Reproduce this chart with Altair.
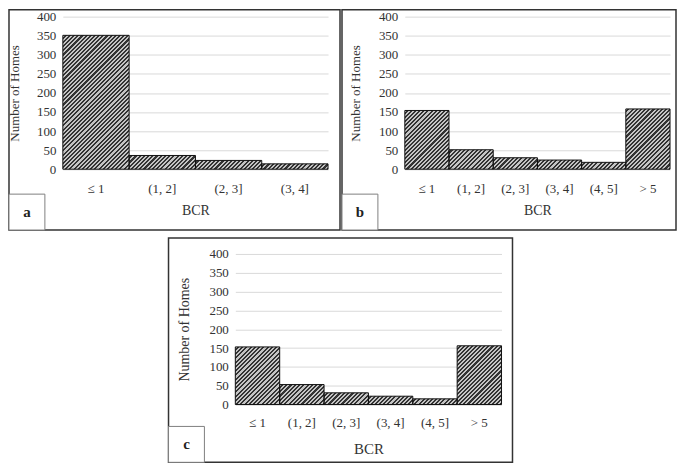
import altair as alt
import pandas as pd

cats_a = ["≤ 1", "(1, 2]", "(2, 3]", "(3, 4]"]
vals_a = [351, 36, 23, 14]

cats_b = ["≤ 1", "(1, 2]", "(2, 3]", "(3, 4]", "(4, 5]", "> 5"]
vals_b = [154, 51, 30, 24, 18, 158]

cats_c = ["≤ 1", "(1, 2]", "(2, 3]", "(3, 4]", "(4, 5]", "> 5"]
vals_c = [153, 53, 31, 22, 15, 156]

y_ticks = [0, 50, 100, 150, 200, 250, 300, 350, 400]
Y_MAX = 400

FONT = "Liberation Serif"
TXT = "#333333"
GRID = "#d9d9d9"
DARK = "#333333"
LIGHT = "#c4c4c4"
PERIOD = 4.2


def hatch(w, h):
    """Upward-diagonal hatch as a hard-stop linear gradient for a w x h box."""
    n = max(1, int(round((w + h) / PERIOD)))
    stops = []
    for k in range(n):
        a = k / n
        m = (k + 0.5) / n
        b = (k + 1) / n
        stops += [alt.GradientStop(offset=a, color=LIGHT),
                  alt.GradientStop(offset=m, color=LIGHT),
                  alt.GradientStop(offset=m, color=DARK),
                  alt.GradientStop(offset=b, color=DARK)]
    x2 = w * (w + h) / (w * w + h * h)
    y2 = h * (w + h) / (w * w + h * h)
    return alt.LinearGradient(gradient="linear", stops=stops, x1=0, y1=0, x2=x2, y2=y2)


def panel(cats, vals, letter, W, H, L, R, T, B, tfs, xfs, lab_pad, xt_pad, yt_pad):
    df = pd.DataFrame({"cat": cats, "n": vals})
    dummy = pd.DataFrame({"k": [0]})
    xscale = alt.Scale(domain=cats, paddingInner=0, paddingOuter=0)
    yscale = alt.Scale(domain=[0, Y_MAX])
    xaxis = alt.Axis(title="BCR", labelAngle=0, ticks=False, grid=False,
                     domain=True, domainColor=GRID,
                     labelFont=FONT, labelFontSize=13, labelColor=TXT,
                     labelPadding=lab_pad, titlePadding=xt_pad,
                     titleFont=FONT, titleFontSize=xfs, titleFontWeight="normal",
                     titleColor=TXT)
    yaxis = alt.Axis(title="Number of Homes", values=y_ticks, ticks=False,
                     domain=False, grid=True, gridColor=GRID,
                     labelFont=FONT, labelFontSize=13, labelColor=TXT,
                     labelPadding=7, titlePadding=yt_pad,
                     titleFont=FONT, titleFontSize=tfs, titleFontWeight="normal",
                     titleColor=TXT)
    enc = dict(x=alt.X("cat:N", scale=xscale, axis=xaxis),
               y=alt.Y("n:Q", scale=yscale, axis=yaxis))
    bw = W / len(cats)
    hatched = []
    for c, v in zip(cats, vals):
        bh = v * H / Y_MAX
        hatched.append(
            alt.Chart(df).transform_filter(alt.datum.cat == c)
            .mark_bar(fill=hatch(bw, bh), strokeWidth=0)
            .encode(**enc)
        )
    base = alt.Chart(df).mark_bar(fillOpacity=0, stroke="#111", strokeWidth=1).encode(**enc)
    frame = alt.Chart(dummy).mark_rect(fillOpacity=0, stroke="#333", strokeWidth=1.5).encode(
        x=alt.value(-L), x2=alt.value(W + R), y=alt.value(-T), y2=alt.value(H + B))
    box = alt.Chart(dummy).mark_rect(fill="white", stroke="#7f7f7f", strokeWidth=1).encode(
        x=alt.value(-L), x2=alt.value(-L + 36), y=alt.value(H + B - 36), y2=alt.value(H + B))
    lab = alt.Chart(dummy).mark_text(text=letter, font=FONT, fontWeight="bold",
                                     fontSize=15, color="#222").encode(
        x=alt.value(-L + 18), y=alt.value(H + B - 18))
    return alt.layer(*hatched, base, frame, box, lab).properties(width=W, height=H)


pa = panel(cats_a, vals_a, "a", 266, 153, 54, 12, 7, 61, 13, 14, 13, 8, 15)
pb = panel(cats_b, vals_b, "b", 266, 153, 63, 6, 7, 61, 13, 14, 13, 8, 16)
pc = panel(cats_c, vals_c, "c", 267, 151, 67, 11, 16, 58, 14, 15, 12, 12, 17)

spacer = alt.Chart(pd.DataFrame({"k": [0]})).mark_rect(fill="white", strokeWidth=0).encode(
    x=alt.value(0), x2=alt.value(1), y=alt.value(0), y2=alt.value(1)).properties(width=105, height=1)

top = alt.hconcat(pa, pb, spacing=0)
bottom = alt.hconcat(spacer, pc, spacing=0)
chart = (alt.vconcat(top, bottom, spacing=6)
         .configure(padding=0, background="white")
         .configure_view(stroke=None, strokeWidth=0))

chart.save("out.html", embed_options={"renderer": "svg", "actions": False})
